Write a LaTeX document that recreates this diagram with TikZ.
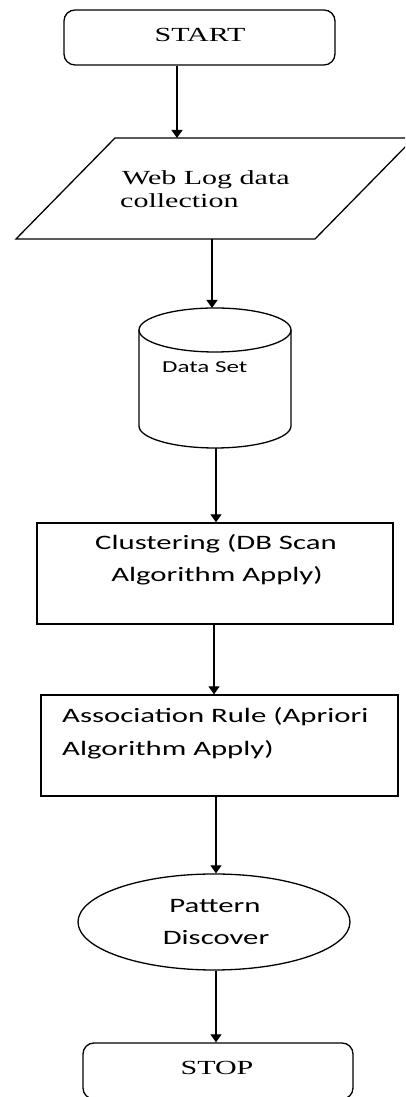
\documentclass[tikz,border=0pt]{standalone}
\usepackage{fontspec}
\setmainfont{Liberation Serif}[FakeStretch=1.5]
\newfontfamily\sansf{Carlito}[FakeStretch=1.5]
\usetikzlibrary{arrows.meta,shapes.geometric}
\begin{document}
\begin{tikzpicture}[x=1pt,y=1pt,
  shp/.style={draw=black,line width=1.3pt},
  arr/.style={draw=black,line width=1.2pt,-{Triangle[width=11pt,length=8pt]}},
  serift/.style={inner sep=0,font=\fontsize{20}{23}\selectfont},
  sanst/.style={inner sep=0,font=\sansf\fontsize{20.5}{31}\selectfont},
  smallt/.style={inner sep=0,font=\sansf\fontsize{16.7}{20}\selectfont}]
\useasboundingbox (0,0) rectangle (405,1097);
\clip (0,0) rectangle (405,1097);
\fill[white] (0,0) rectangle (405,1097);
% START
\node[shp,rounded corners=11pt,minimum width=271pt,minimum height=55pt,inner sep=0] (start) at (199.5,1059.5) {};
\node[serift,anchor=base] (startt) at (200,1055) {START};
% Web log parallelogram
\coordinate (wtl) at (115,959);
\coordinate (wtr) at (414,959);
\coordinate (wbr) at (315,858);
\coordinate (wbl) at (16,858);
\draw[shp,line join=miter] (wtl) -- (wtr) -- (wbr) -- (wbl) -- cycle;
\node[serift,anchor=base west] (web1) at (122,912) {Web Log data};
\node[serift,anchor=base west] (web2) at (120,889) {collection};
% Data set cylinder
\coordinate (dtop) at (215,789);
\coordinate (dbot) at (215,649);
\draw[shp] (215,767) ellipse[x radius=76pt,y radius=22pt];
\draw[shp] (139,767) -- (139,671) arc[start angle=180,end angle=360,x radius=76pt,y radius=22pt] -- (291,767);
\node[smallt,anchor=base west] (dst) at (162,724) {Data Set};
% Clustering
\node[shp,minimum width=356pt,minimum height=101pt,inner sep=0] (clu) at (215,523.5) {};
\node[sanst,anchor=base] (clu1) at (216,547) {Clustering (DB Scan};
\node[sanst,anchor=base] (clu2) at (217,515) {Algorithm Apply)};
% Association
\node[shp,minimum width=357pt,minimum height=101pt,inner sep=0] (asr) at (219.5,351.5) {};
\node[sanst,anchor=base west] (asr1) at (62,374) {Association Rule (Apriori};
\node[sanst,anchor=base west] (asr2) at (62,341) {Algorithm Apply)};
% Pattern ellipse
\node[shp,ellipse,minimum width=272pt,minimum height=96pt,inner sep=0] (pat) at (214,175) {};
\node[sanst,anchor=base] (pat1) at (215,184) {Pattern};
\node[sanst,anchor=base] (pat2) at (216,152) {Discover};
% STOP
\node[shp,rounded corners=11pt,minimum width=270pt,minimum height=56pt,inner sep=0] (stop) at (218,26) {};
\node[serift,anchor=base] (stopt) at (217,22) {STOP};
% connectors
\coordinate (x1) at (177,0);
\coordinate (x2) at (212,0);
\coordinate (x3) at (216,0);
\coordinate (x4) at (214,0);
\draw[arr] (x1 |- start.south) -- (x1 |- wtl);
\draw[arr] (x2 |- wbl) -- (x2 |- dtop);
\draw[arr] (x3 |- dbot) -- (x3 |- clu.north);
\draw[arr] (x4 |- clu.south) -- (x4 |- asr.north);
\draw[arr] (x3 |- asr.south) -- (x3 |- pat.north);
\draw[arr] (x3 |- pat.south) -- (x3 |- stop.north);
\end{tikzpicture}
\end{document}
